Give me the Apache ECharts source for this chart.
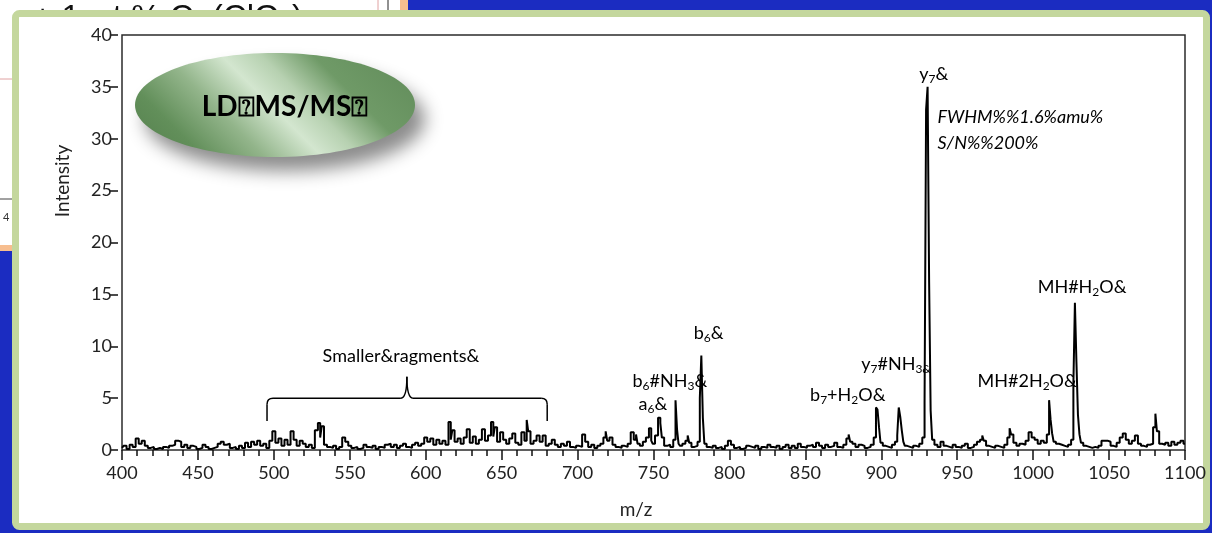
<!DOCTYPE html>
<html><head><meta charset="utf-8">
<script src="https://cdn.jsdelivr.net/npm/echarts@6/dist/echarts.min.js"></script>
<style>html,body{margin:0;padding:0;background:#1b2cc1;overflow:hidden}#main{width:1212px;height:533px}</style>
</head><body><div id="main"></div>
<script>
// ---- data: [m/z, intensity], split by 100-unit segments ----
const seg400 = [[400,0.2],[402,0.4],[404,0.1],[406,0.5],[408,0.3],[410,1.1],[412,0.6],[414,0.9],[416,0.4],[418,0.2],[420,0.3],[422,0.1],[424,0.2],[426,0.1],[428,0.3],[430,0.2],[432,0.4],[434,0.5],[436,0.9],[438,0.8],[440,0.3],[442,0.5],[444,0.2],[446,0.4],[448,0.3],[450,0.1],[452,0.2],[454,0.5],[456,0.3],[458,0.1],[460,0.2],[462,0.3],[464,0.6],[466,0.8],[468,0.5],[470,0.6],[472,0.2],[474,0.3],[476,0.1],[478,0.4],[480,0.2],[482,0.7],[484,0.3],[486,0.8],[488,0.5],[490,0.9],[492,0.4],[494,0.6],[496,0.2],[498,0.9]];
const seg500 = [[500,1.8],[502,0.7],[504,1.1],[506,0.4],[508,1.0],[510,0.5],[512,1.8],[514,1.0],[516,0.4],[518,0.9],[520,0.6],[522,0.3],[524,0.5],[526,0.2],[528,1.9],[530,2.6],[531,1.2],[532,2.3],[534,0.5],[536,0.3],[538,0.2],[540,0.4],[542,0.1],[544,0.3],[546,1.2],[548,0.8],[550,0.4],[552,0.2],[554,0.3],[556,0.1],[558,0.2],[560,0.5],[562,0.3],[564,0.2],[566,0.4],[568,0.1],[570,0.3],[572,0.2],[574,0.5],[576,0.6],[578,0.3],[580,0.5],[582,0.2],[584,0.4],[586,0.6],[588,0.3],[590,0.2],[592,0.5],[594,0.7],[596,0.4],[598,0.6]];
const seg600 = [[600,1.2],[602,0.8],[604,1.1],[606,0.5],[608,1.0],[610,0.6],[612,0.9],[614,0.5],[616,2.7],[617,1.0],[618,1.9],[620,0.8],[622,1.1],[624,0.6],[626,1.2],[628,2.0],[630,0.7],[632,1.3],[634,0.6],[636,1.0],[638,2.0],[640,0.9],[642,1.4],[644,2.7],[645,1.3],[646,2.2],[648,0.8],[650,1.7],[652,1.0],[654,0.6],[656,1.1],[658,1.6],[660,0.7],[662,0.5],[664,1.7],[666,0.9],[667,2.9],[668,1.8],[670,0.6],[672,0.9],[674,1.4],[676,0.8],[678,1.4],[680,0.4],[682,0.6],[684,1.0],[686,0.5],[688,0.3],[690,0.6],[692,0.4],[694,0.8],[696,0.3],[698,0.2]];
const seg700 = [[700,0.4],[702,0.3],[704,1.5],[706,0.8],[708,0.3],[710,0.5],[712,0.2],[714,0.4],[716,0.6],[718,1.2],[719,1.8],[720,0.9],[722,1.2],[724,0.5],[726,0.3],[728,0.2],[730,0.4],[732,0.3],[734,0.6],[736,1.7],[738,1.0],[739,1.5],[740,0.6],[742,0.4],[744,0.8],[746,1.2],[748,2.1],[749,0.9],[750,0.6],[752,1.4],[754,3.1],[755,2.6],[756,1.2],[758,0.4],[760,0.5],[762,0.3],[764,1.0],[765,4.8],[766,2.0],[767,0.6],[768,0.4],[770,0.6],[772,0.9],[773,1.4],[774,0.7],[776,0.3],[778,0.4],[780,0.8],[781,5.0],[782,9.1],[783,3.1],[784,0.6],[786,0.3],[788,0.2],[790,0.4],[792,0.2],[794,0.3],[796,0.1],[798,0.4]];
const seg800 = [[800,0.9],[802,0.5],[804,0.2],[806,0.3],[808,0.1],[810,0.2],[812,0.4],[814,0.3],[816,0.2],[818,0.4],[820,0.1],[822,0.3],[824,0.2],[826,0.5],[828,0.3],[830,0.2],[832,0.4],[834,0.1],[836,0.3],[838,0.5],[840,0.2],[842,0.4],[844,0.2],[846,0.6],[848,0.3],[850,0.2],[852,0.4],[854,0.5],[856,0.3],[858,0.7],[860,0.4],[862,0.2],[864,0.5],[866,0.3],[868,0.4],[870,0.7],[872,0.3],[874,0.2],[876,0.5],[878,1.1],[879,1.5],[880,0.8],[882,0.6],[884,0.3],[886,0.5],[888,0.4],[890,0.2],[892,0.3],[894,0.5],[896,1.2],[897,4.1],[898,3.9],[899,2.2]];
const seg900 = [[900,0.7],[902,0.4],[904,0.3],[906,0.2],[908,0.5],[910,0.8],[911,1.4],[912,4.1],[913,3.2],[914,1.9],[915,0.8],[916,0.4],[918,0.3],[920,0.2],[922,0.4],[924,0.3],[926,0.6],[928,1.2],[929,4.5],[930,32.8],[931,35.0],[932,16.2],[933,3.8],[934,1.0],[936,0.5],[938,0.3],[940,0.8],[942,0.4],[944,0.3],[946,0.2],[948,0.5],[950,0.3],[952,0.2],[954,0.4],[956,0.6],[958,0.2],[960,0.3],[962,0.5],[964,0.8],[966,1.0],[967,1.4],[968,0.9],[970,0.4],[972,0.3],[974,0.2],[976,0.4],[978,0.3],[980,0.2],[982,0.5],[984,1.2],[985,2.1],[986,1.5],[988,0.7],[990,0.4],[992,0.6],[994,0.5],[996,0.9],[998,1.7]];
const seg1000 = [[1000,1.2],[1002,1.0],[1004,0.6],[1006,0.9],[1008,0.7],[1010,1.5],[1011,4.8],[1012,2.9],[1013,1.6],[1014,0.8],[1016,0.6],[1018,0.5],[1020,0.4],[1022,0.3],[1024,0.5],[1026,1.0],[1027,6.3],[1028,14.2],[1029,8.5],[1030,3.4],[1031,1.5],[1032,0.7],[1034,0.4],[1036,0.3],[1038,0.2],[1040,0.3],[1042,0.2],[1044,0.4],[1046,0.9],[1048,0.9],[1050,0.8],[1052,0.4],[1054,0.3],[1056,0.7],[1058,1.2],[1060,1.6],[1062,1.0],[1064,0.6],[1066,0.9],[1068,1.4],[1070,0.6],[1072,0.4],[1074,0.3],[1076,0.5],[1078,0.6],[1080,2.2],[1081,3.5],[1082,1.8],[1084,0.6],[1086,0.5],[1088,0.7],[1090,0.4],[1092,0.8],[1094,0.5],[1096,0.7],[1098,0.9],[1100,0.6]];

// ---- annotation texts and their anchor (left edge, vertical middle) in data units ----
const annotationTexts = ['{n|y}{s|7}{n|&}', '{i|FWHM%%1.6%amu%}', '{i|S/N%%200%}', '{n|MH#H}{s|2}{n|O&}', '{n|MH#2H}{s|2}{n|O&}', '{n|y}{s|7}{n|#NH}{s|3&}', '{n|b}{s|7}{n|+H}{s|2}{n|O&}', '{n|b}{s|6}{n|&}', '{n|b}{s|6}{n|#NH}{s|3}{n|&}', '{n|a}{s|6}{n|&}', '{n|Smaller&ragments&}'];
const annotationMz = [925, 937, 937, 1003, 963.4, 886.8, 853.1, 776.5, 736.2, 740.2, 532.1];
const annotationLevel = [36.2, 32.1, 29.6, 15.7, 6.6, 8.3, 5.3, 11.3, 6.6, 4.4, 9.0];
// brace under "Smaller fragments": left end, cusp, right end (m/z) and its levels (intensity)
const braceMz = [495.5, 587.6, 680];
const braceLevel = [2.8, 5.0, 7.05];

const FONT = 'Lato, "Open Sans", sans-serif';
const spectrum = [].concat(seg400, seg500, seg600, seg700, seg800, seg900, seg1000);

const chart = echarts.init(document.getElementById('main'));
chart.setOption({
  animation: false,
  backgroundColor: '#1b2cc1',
  grid: {left: 122, right: 27, top: 35, bottom: 83, show: true, borderColor: '#2b2b2b', borderWidth: 1.5, backgroundColor: 'transparent'},
  xAxis: {
    type: 'value', min: 400, max: 1100, interval: 50, offset: 3,
    axisLine: {show: false},
    axisTick: {show: true, length: 10, lineStyle: {color: '#111', width: 1.5}},
    minorTick: {show: true, splitNumber: 5, length: 6, lineStyle: {color: '#111', width: 1.5}},
    splitLine: {show: false}, minorSplitLine: {show: false},
    axisLabel: {margin: 11, color: '#222', fontSize: 18, fontFamily: FONT, formatter: v => String(v)}
  },
  yAxis: {
    type: 'value', min: 0, max: 40, interval: 5, offset: 4,
    axisLine: {show: false},
    axisTick: {show: true, length: 8, lineStyle: {color: '#111', width: 1.5}},
    splitLine: {show: false},
    axisLabel: {margin: 6, color: '#222', fontSize: 18, fontFamily: FONT}
  },
  series: [{
    type: 'line', step: 'middle', data: spectrum, symbol: 'none', silent: true,
    lineStyle: {color: '#000', width: 2}, z: 3
  }]
});

const P = (mz, v) => chart.convertToPixel({gridIndex: 0}, [mz, v]);
const rich = {
  n: {fontSize: 18, fontFamily: FONT, fill: '#000', color: '#000', lineHeight: 22},
  s: {fontSize: 12, fontFamily: FONT, fill: '#000', color: '#000', lineHeight: 10, verticalAlign: 'bottom'},
  i: {fontSize: 18, fontFamily: FONT, fontStyle: 'italic', fill: '#000', color: '#000', lineHeight: 22}
};

const els = [];
// background slide fragments
els.push({type: 'rect', z: -20, shape: {x: 0, y: 0, width: 400, height: 245}, style: {fill: '#ffffff'}});
els.push({type: 'rect', z: -20, shape: {x: 400, y: 0, width: 8, height: 12}, style: {fill: '#f7be8f'}});
els.push({type: 'rect', z: -20, shape: {x: 0, y: 245, width: 14, height: 6}, style: {fill: '#f7be8f'}});
els.push({type: 'line', z: -19, shape: {x1: 378, y1: 0, x2: 378, y2: 12}, style: {stroke: '#e0a2a2', lineWidth: 1}});
els.push({type: 'line', z: -19, shape: {x1: 388, y1: 0, x2: 388, y2: 12}, style: {stroke: '#222', lineWidth: 1}});
els.push({type: 'line', z: -19, shape: {x1: 0, y1: 79, x2: 14, y2: 79}, style: {stroke: '#e0a2a2', lineWidth: 1}});
els.push({type: 'line', z: -19, shape: {x1: 0, y1: 199, x2: 14, y2: 199}, style: {stroke: '#444', lineWidth: 1}});
els.push({type: 'text', z: -19, x: 3, y: 217, style: {text: '4', fontSize: 11, fontFamily: FONT, fill: '#333', verticalAlign: 'middle', textVerticalAlign: 'middle'}});
els.push({type: 'text', z: -19, x: 33, y: 0, style: {
  text: '{t|+ 1 wt % Ca(ClO}{u|4}{t|)}', verticalAlign: 'top', textVerticalAlign: 'top',
  rich: {t: {fontSize: 33, fontFamily: '"Liberation Sans", Arial', fill: '#111', lineHeight: 38}, u: {fontSize: 22, fontFamily: '"Liberation Sans", Arial', fill: '#111', lineHeight: 30, verticalAlign: 'bottom'}}
}});
// green-framed white panel
els.push({type: 'rect', z: -10, shape: {x: 15.5, y: 13.5, width: 1191, height: 513, r: 4}, style: {fill: '#ffffff', stroke: '#c4d79d', lineWidth: 7}});

// axis names
els.push({type: 'text', z: 5, x: 63, y: 181, rotation: Math.PI / 2, style: {text: 'Intensity', fontSize: 19, fontFamily: FONT, fill: '#222', align: 'center', textAlign: 'center', verticalAlign: 'middle', textVerticalAlign: 'middle'}});
els.push({type: 'text', z: 5, x: 636, y: 510, style: {text: 'm/z', fontSize: 19, fontFamily: FONT, fill: '#222', align: 'center', textAlign: 'center', verticalAlign: 'middle', textVerticalAlign: 'middle'}});

// LD-MS/MS badge
els.push({type: 'ellipse', z: 20, shape: {cx: 275, cy: 105, rx: 140, ry: 52},
  style: {
    fill: new echarts.graphic.LinearGradient(165, 215, 385, -5, [
      {offset: 0, color: '#4d7746'}, {offset: 0.22, color: '#628f5a'}, {offset: 0.36, color: '#93b58b'},
      {offset: 0.49, color: '#d3e6cf'}, {offset: 0.58, color: '#b7d1b1'}, {offset: 0.7, color: '#6f9a67'},
      {offset: 1, color: '#5c8655'}], true),
    shadowBlur: 18, shadowOffsetX: 10, shadowOffsetY: 14, shadowColor: 'rgba(0,0,0,0.45)'
  }});
els.push({type: 'text', z: 21, x: 285, y: 107, style: {text: 'LD\u2370MS/MS\u2370', fontSize: 28, fontWeight: 'bold', fontFamily: FONT, fill: '#000', align: 'center', textAlign: 'center', verticalAlign: 'middle', textVerticalAlign: 'middle'}});

// peak annotations
annotationTexts.forEach((t, k) => {
  const p = P(annotationMz[k], annotationLevel[k]);
  els.push({type: 'text', z: 30, x: p[0], y: p[1], style: {text: t, rich: rich, fontSize: 18, fontFamily: FONT, fill: '#000', align: 'left', textAlign: 'left', verticalAlign: 'middle', textVerticalAlign: 'middle'}});
});

// brace built from straight segments and quadratic curves
const bl = P(braceMz[0], braceLevel[0]), bt = P(braceMz[0], braceLevel[1]);
const bc = P(braceMz[1], braceLevel[2]), br = P(braceMz[2], braceLevel[0]);
const yT = bt[1], r = 6;
const bs = {stroke: '#000', lineWidth: 1.5, fill: 'none'};
const seg = (x1, y1, x2, y2) => els.push({type: 'line', z: 30, shape: {x1, y1, x2, y2}, style: bs});
const crv = (x1, y1, cx, cy, x2, y2) => els.push({type: 'bezierCurve', z: 30, shape: {x1, y1, cpx1: cx, cpy1: cy, x2, y2}, style: bs});
seg(bl[0], bl[1], bl[0], yT + r);
crv(bl[0], yT + r, bl[0], yT, bl[0] + r, yT);
seg(bl[0] + r, yT, bc[0] - r, yT);
crv(bc[0] - r, yT, bc[0], yT, bc[0], bc[1]);
crv(bc[0], bc[1], bc[0], yT, bc[0] + r, yT);
seg(bc[0] + r, yT, br[0] - r, yT);
crv(br[0] - r, yT, br[0], yT, br[0], yT + r);
seg(br[0], yT + r, br[0], br[1]);

chart.setOption({graphic: {elements: els}});
</script></body></html>
